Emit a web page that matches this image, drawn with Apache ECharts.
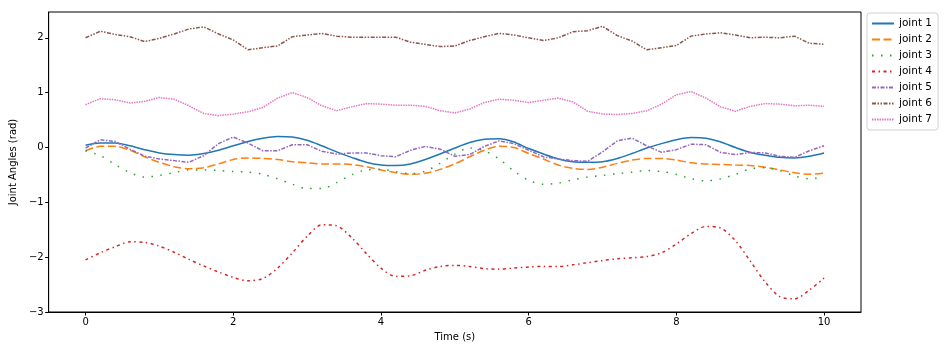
<!DOCTYPE html>
<html>
<head>
<meta charset="utf-8">
<script src="https://cdn.jsdelivr.net/npm/echarts@6/dist/echarts.min.js"></script>
<style>
  html, body { margin: 0; padding: 0; background: #fff; }
  #charts { width: 947px; height: 355px; }
</style>
</head>
<body>
<div id="charts"></div>
<script>
// time samples (s)
var times = [];
for (var i = 0; i <= 50; i++) times.push(+(i * 0.2).toFixed(1));

var joint1 = [0.04, 0.08, 0.08, 0.03, -0.04, -0.10, -0.13, -0.14, -0.11, -0.05,
  0.03, 0.11, 0.17, 0.20, 0.19, 0.13, 0.03, -0.08, -0.18, -0.27,
  -0.32, -0.33, -0.30, -0.22, -0.12, -0.01, 0.09, 0.15, 0.16, 0.10,
  -0.02, -0.12, -0.21, -0.26, -0.27, -0.26, -0.20, -0.11, -0.01, 0.07,
  0.14, 0.18, 0.17, 0.10, 0.00, -0.09, -0.14, -0.18, -0.19, -0.16, -0.10];
var joint2 = [-0.06, 0.02, 0.02, -0.05, -0.17, -0.27, -0.35, -0.39, -0.37, -0.30,
  -0.22, -0.19, -0.20, -0.22, -0.26, -0.28, -0.30, -0.30, -0.31, -0.35,
  -0.41, -0.46, -0.49, -0.47, -0.40, -0.30, -0.17, -0.05, 0.02, 0.00,
  -0.11, -0.21, -0.32, -0.38, -0.40, -0.36, -0.29, -0.23, -0.20, -0.20,
  -0.23, -0.28, -0.30, -0.31, -0.32, -0.33, -0.36, -0.41, -0.46, -0.49, -0.47];
var joint3 = [-0.06, -0.15, -0.31, -0.46, -0.54, -0.51, -0.46, -0.41, -0.41, -0.42,
  -0.44, -0.45, -0.49, -0.57, -0.67, -0.75, -0.75, -0.64, -0.50, -0.41,
  -0.40, -0.44, -0.48, -0.43, -0.29, -0.12, -0.01, -0.06, -0.21, -0.43,
  -0.60, -0.67, -0.65, -0.59, -0.54, -0.51, -0.48, -0.45, -0.42, -0.44,
  -0.49, -0.57, -0.61, -0.57, -0.49, -0.39, -0.37, -0.42, -0.52, -0.57, -0.54];
var joint4 = [-2.05, -1.92, -1.81, -1.72, -1.73, -1.80, -1.91, -2.04, -2.16, -2.27,
  -2.37, -2.43, -2.39, -2.20, -1.92, -1.62, -1.41, -1.43, -1.64, -1.93,
  -2.20, -2.35, -2.34, -2.24, -2.17, -2.15, -2.17, -2.21, -2.22, -2.20,
  -2.18, -2.17, -2.17, -2.14, -2.10, -2.06, -2.03, -2.01, -1.99, -1.92,
  -1.76, -1.57, -1.44, -1.47, -1.70, -2.07, -2.45, -2.72, -2.76, -2.60, -2.38];
var joint5 = [-0.01, 0.14, 0.11, -0.03, -0.16, -0.21, -0.24, -0.27, -0.15, 0.07,
  0.19, 0.08, -0.06, -0.06, 0.05, 0.05, -0.07, -0.12, -0.10, -0.10,
  -0.15, -0.17, -0.05, 0.02, -0.03, -0.16, -0.13, 0.02, 0.12, 0.07,
  -0.05, -0.17, -0.21, -0.24, -0.25, -0.08, 0.12, 0.17, 0.03, -0.09,
  -0.04, 0.06, 0.05, -0.09, -0.13, -0.09, -0.10, -0.16, -0.18, -0.06, 0.03];
var joint6 = [2.00, 2.12, 2.06, 2.02, 1.93, 1.99, 2.07, 2.16, 2.20, 2.07,
  1.96, 1.78, 1.82, 1.85, 2.02, 2.05, 2.08, 2.03, 2.01, 2.01,
  2.01, 2.01, 1.92, 1.88, 1.84, 1.85, 1.95, 2.02, 2.08, 2.05,
  2.00, 1.95, 2.00, 2.11, 2.13, 2.21, 2.04, 1.94, 1.78, 1.82,
  1.86, 2.03, 2.07, 2.09, 2.05, 2.00, 2.01, 2.00, 2.03, 1.90, 1.88];
var joint7 = [0.78, 0.89, 0.87, 0.81, 0.84, 0.91, 0.88, 0.76, 0.62, 0.58,
  0.61, 0.65, 0.73, 0.90, 1.00, 0.91, 0.76, 0.67, 0.74, 0.80,
  0.79, 0.77, 0.77, 0.75, 0.67, 0.63, 0.70, 0.82, 0.88, 0.86,
  0.82, 0.86, 0.90, 0.83, 0.66, 0.61, 0.60, 0.62, 0.67, 0.79,
  0.96, 1.02, 0.90, 0.74, 0.66, 0.75, 0.80, 0.79, 0.76, 0.77, 0.75];

var names = ['joint 1', 'joint 2', 'joint 3', 'joint 4', 'joint 5', 'joint 6', 'joint 7'];
var xTicks = [0, 2, 4, 6, 8, 10];
var yTicks = [-3, -2, -1, 0, 1, 2];

var colors = ['#1f77b4', '#ff7f0e', '#2ca02c', '#d62728', '#9467bd', '#8c564b', '#e377c2'];
var dashes = ['solid', [8, 3.5], [1.5, 7.5], [3, 3.5, 1.5, 3.5], [4, 1.5, 1.5, 1.5], [4, 1.5, 1.5, 1.5, 1.5, 1.5], [1.5, 1]];
var smooths = [true, true, true, true, false, false, false];
var allData = [joint1, joint2, joint3, joint4, joint5, joint6, joint7];

var font = 'DejaVu Sans';
var myChart = echarts.init(document.getElementById('charts'));

var series = [];
allData.forEach(function (vals, k) {
  series.push({
    name: names[k],
    type: 'line',
    showSymbol: false,
    symbol: 'none',
    smooth: smooths[k] ? 0.3 : false,
    data: times.map(function (t, i) { return [t, vals[i]]; }),
    lineStyle: { color: colors[k], width: 1.5, type: dashes[k] },
    itemStyle: { color: colors[k] }
  });
});

var option = {
  animation: false,
  color: colors,
  textStyle: { fontFamily: font },
  grid: { left: 48, right: 86, top: 12, bottom: 43, show: true, borderColor: '#000', borderWidth: 1 },
  legend: {
    orient: 'vertical',
    left: 867, top: 13,
    data: names,
    itemWidth: 22, itemHeight: 10, itemGap: 5,
    padding: [5, 6, 5, 4],
    borderColor: '#d0d0d0', borderWidth: 1, borderRadius: 3,
    itemStyle: { opacity: 0 },
    textStyle: { fontFamily: font, fontSize: 10.5, color: '#000' }
  },
  xAxis: {
    type: 'value', min: -0.5, max: 10.5,
    name: 'Time (s)', nameLocation: 'middle', nameGap: 20,
    nameTextStyle: { fontFamily: font, fontSize: 10, color: '#000' },
    splitLine: { show: false },
    axisLine: { show: true, onZero: false, lineStyle: { color: '#000', width: 1 } },
    axisTick: { show: true, length: 3.5, customValues: xTicks, lineStyle: { color: '#000' } },
    axisLabel: { customValues: xTicks, fontFamily: font, fontSize: 10, color: '#000', margin: 5 }
  },
  yAxis: {
    type: 'value', min: -3, max: 2.47,
    name: 'Joint Angles (rad)', nameLocation: 'middle', nameGap: 27, nameRotate: 90,
    nameTextStyle: { fontFamily: font, fontSize: 10, color: '#000' },
    splitLine: { show: false },
    axisLine: { show: true, onZero: false, lineStyle: { color: '#000', width: 1 } },
    axisTick: { show: true, length: 3.5, customValues: yTicks, lineStyle: { color: '#000' } },
    axisLabel: { customValues: yTicks, fontFamily: font, fontSize: 10, color: '#000', margin: 5,
      formatter: function (v) { return v < 0 ? '\u2212' + Math.abs(v) : '' + v; } }
  },
  series: series
};

myChart.setOption(option);
</script>
</body>
</html>
